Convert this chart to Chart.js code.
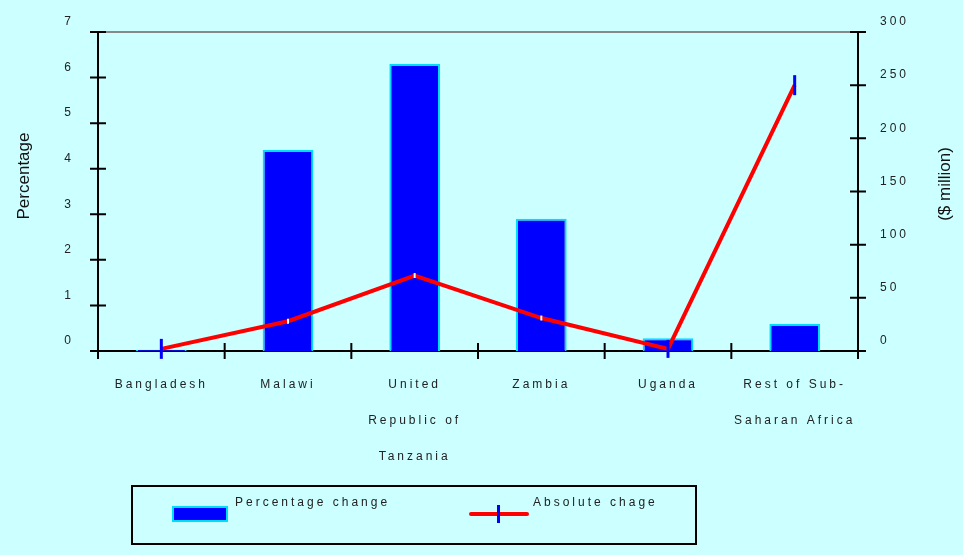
<!DOCTYPE html>
<html>
<head>
<meta charset="utf-8">
<script src="https://cdn.jsdelivr.net/npm/chart.js@4.4.1/dist/chart.umd.min.js"></script>
<style>
  html, body { margin: 0; padding: 0; background: #CCFFFF; }
  canvas { display: block; }
</style>
</head>
<body>
<canvas id="chart" width="963" height="555"></canvas>
<script>
// Categories (multi-line labels are arrays of lines)
const categories = [
  'Bangladesh',
  'Malawi',
  ['United', 'Republic of', 'Tanzania'],
  'Zambia',
  'Uganda',
  ['Rest of Sub-', 'Saharan Africa']
];
// Percentage change (left axis)
const percentageChange = [0.03, 4.41, 6.30, 2.90, 0.28, 0.59];
// Absolute change, $ million (right axis)
const absoluteChange = [2, 28, 71, 31, 2, 250];
// Axis tick values
const percentTicks = [0, 1, 2, 3, 4, 5, 6, 7];
const millionTicks = [0, 50, 100, 150, 200, 250, 300];

const BG = '#CCFFFF';
const NARROW = "'Liberation Sans Narrow', 'Arial Narrow', 'Liberation Sans', sans-serif";
const REGULAR = "'Liberation Sans', Arial, sans-serif";
const SPACING = '3px';

// Marker colours: blue where the point sits on the background, pale where it crosses a bar
const markerColors = ['#0000FF', '#CCFFFF', '#CCFFFF', '#CCFFFF', '#0000FF', '#0000FF'];
const markerRadius = [10, 2.5, 2.5, 2.5, 9, 10];
const markerWidth = [3, 2, 2, 2, 3, 3];

// Background, axis lines and crossing tick marks
const framePlugin = {
  id: 'frame',
  beforeDraw(chart) {
    const ctx = chart.ctx;
    ctx.save();
    ctx.fillStyle = BG;
    ctx.fillRect(0, 0, chart.width, chart.height);
    ctx.restore();
    ctx.letterSpacing = SPACING;
  },
  beforeDatasetsDraw(chart) {
    const ctx = chart.ctx;
    const a = chart.chartArea;
    const x = chart.scales.x, y = chart.scales.y, y1 = chart.scales.y1;
    const T = 8;
    ctx.save();
    // top frame line
    ctx.strokeStyle = '#888888';
    ctx.lineWidth = 2;
    ctx.beginPath();
    ctx.moveTo(a.left, a.top);
    ctx.lineTo(a.right, a.top);
    ctx.stroke();

    ctx.strokeStyle = '#000000';
    ctx.lineWidth = 2;
    ctx.beginPath();
    // left axis
    ctx.moveTo(a.left, a.top);
    ctx.lineTo(a.left, a.bottom + T);
    // right axis
    ctx.moveTo(a.right, a.top);
    ctx.lineTo(a.right, a.bottom + T);
    // bottom axis
    ctx.moveTo(a.left - T, a.bottom);
    ctx.lineTo(a.right + T, a.bottom);
    // left ticks
    y.ticks.forEach(t => {
      const p = y.getPixelForValue(t.value);
      ctx.moveTo(a.left - T, p);
      ctx.lineTo(a.left + T, p);
    });
    // right ticks
    y1.ticks.forEach(t => {
      const p = y1.getPixelForValue(t.value);
      ctx.moveTo(a.right - T, p);
      ctx.lineTo(a.right + T, p);
    });
    // category boundary ticks
    for (let i = 1; i < categories.length; i++) {
      const p = (x.getPixelForValue(i - 1) + x.getPixelForValue(i)) / 2;
      ctx.moveTo(p, a.bottom - T);
      ctx.lineTo(p, a.bottom + T);
    }
    ctx.stroke();
    ctx.restore();
  },
  afterDraw(chart) {
    const ctx = chart.ctx;
    ctx.save();
    // axis titles, both reading bottom to top
    ctx.letterSpacing = '0px';
    ctx.fillStyle = '#111111';
    ctx.font = '17px ' + REGULAR;
    ctx.textAlign = 'center';
    ctx.textBaseline = 'middle';
    ctx.save();
    ctx.translate(24, 176);
    ctx.rotate(-Math.PI / 2);
    ctx.fillText('Percentage', 0, 0);
    ctx.restore();
    ctx.save();
    ctx.translate(945, 184);
    ctx.rotate(-Math.PI / 2);
    ctx.fillText('($ million)', 0, 0);
    ctx.restore();

    // legend box
    const ds = chart.data.datasets;
    ctx.strokeStyle = '#000000';
    ctx.lineWidth = 2;
    ctx.strokeRect(132, 486, 564, 58);
    // bar swatch
    ctx.fillStyle = ds[0].backgroundColor;
    ctx.fillRect(172, 506, 56, 16);
    ctx.strokeStyle = ds[0].borderColor;
    ctx.lineWidth = 2;
    ctx.strokeRect(173, 507, 54, 14);
    // line swatch
    ctx.strokeStyle = ds[1].borderColor;
    ctx.lineWidth = 4;
    ctx.lineCap = 'round';
    ctx.beginPath();
    ctx.moveTo(471, 514);
    ctx.lineTo(527, 514);
    ctx.stroke();
    ctx.strokeStyle = '#0000FF';
    ctx.lineWidth = 3;
    ctx.lineCap = 'butt';
    ctx.beginPath();
    ctx.moveTo(498.5, 505);
    ctx.lineTo(498.5, 523);
    ctx.stroke();
    // legend texts
    ctx.letterSpacing = SPACING;
    ctx.fillStyle = '#222222';
    ctx.font = '12px ' + NARROW;
    ctx.textAlign = 'left';
    ctx.textBaseline = 'middle';
    ctx.fillText(ds[0].label, 235, 503);
    ctx.fillText(ds[1].label, 533, 503);
    ctx.restore();
  }
};

const tickFont = { family: NARROW, size: 12 };

new Chart(document.getElementById('chart'), {
  type: 'bar',
  data: {
    labels: categories,
    datasets: [
      {
        type: 'bar',
        label: 'Percentage change',
        data: percentageChange,
        yAxisID: 'y',
        backgroundColor: '#0000FF',
        borderColor: '#00DDFF',
        borderWidth: 2,
        borderSkipped: 'bottom',
        categoryPercentage: 1.0,
        barPercentage: 0.4,
        order: 1
      },
      {
        type: 'line',
        label: 'Absolute chage',
        data: absoluteChange,
        yAxisID: 'y1',
        borderColor: '#FF0000',
        borderWidth: 4,
        tension: 0,
        fill: false,
        clip: false,
        pointStyle: 'line',
        rotation: 90,
        pointRadius: markerRadius,
        pointBorderColor: markerColors,
        pointBorderWidth: markerWidth,
        pointBackgroundColor: markerColors,
        order: 0
      }
    ]
  },
  options: {
    responsive: false,
    animation: false,
    events: [],
    layout: { padding: { top: 32, left: 0, right: 0, bottom: 0 } },
    plugins: { legend: { display: false }, tooltip: { enabled: false }, title: { display: false } },
    scales: {
      x: {
        type: 'category',
        offset: true,
        grid: { display: false, drawTicks: false },
        border: { display: false },
        ticks: {
          color: '#222222',
          font: { family: NARROW, size: 12, lineHeight: '36px' },
          padding: 16,
          maxRotation: 0,
          minRotation: 0,
          autoSkip: false
        },
        afterFit(scale) { scale.height = 204; }
      },
      y: {
        position: 'left',
        min: 0,
        max: 7,
        afterBuildTicks(scale) { scale.ticks = percentTicks.map(v => ({ value: v })); },
        grid: { display: false, drawTicks: false },
        border: { display: false },
        ticks: { color: '#222222', font: tickFont, padding: 24, labelOffset: -10 },
        afterFit(scale) { scale.width = 98; }
      },
      y1: {
        position: 'right',
        min: 0,
        max: 300,
        afterBuildTicks(scale) { scale.ticks = millionTicks.map(v => ({ value: v })); },
        grid: { display: false, drawTicks: false },
        border: { display: false },
        ticks: { color: '#222222', font: tickFont, padding: 22, labelOffset: -10 },
        afterFit(scale) { scale.width = 105; }
      }
    }
  },
  plugins: [framePlugin]
});
</script>
</body>
</html>
